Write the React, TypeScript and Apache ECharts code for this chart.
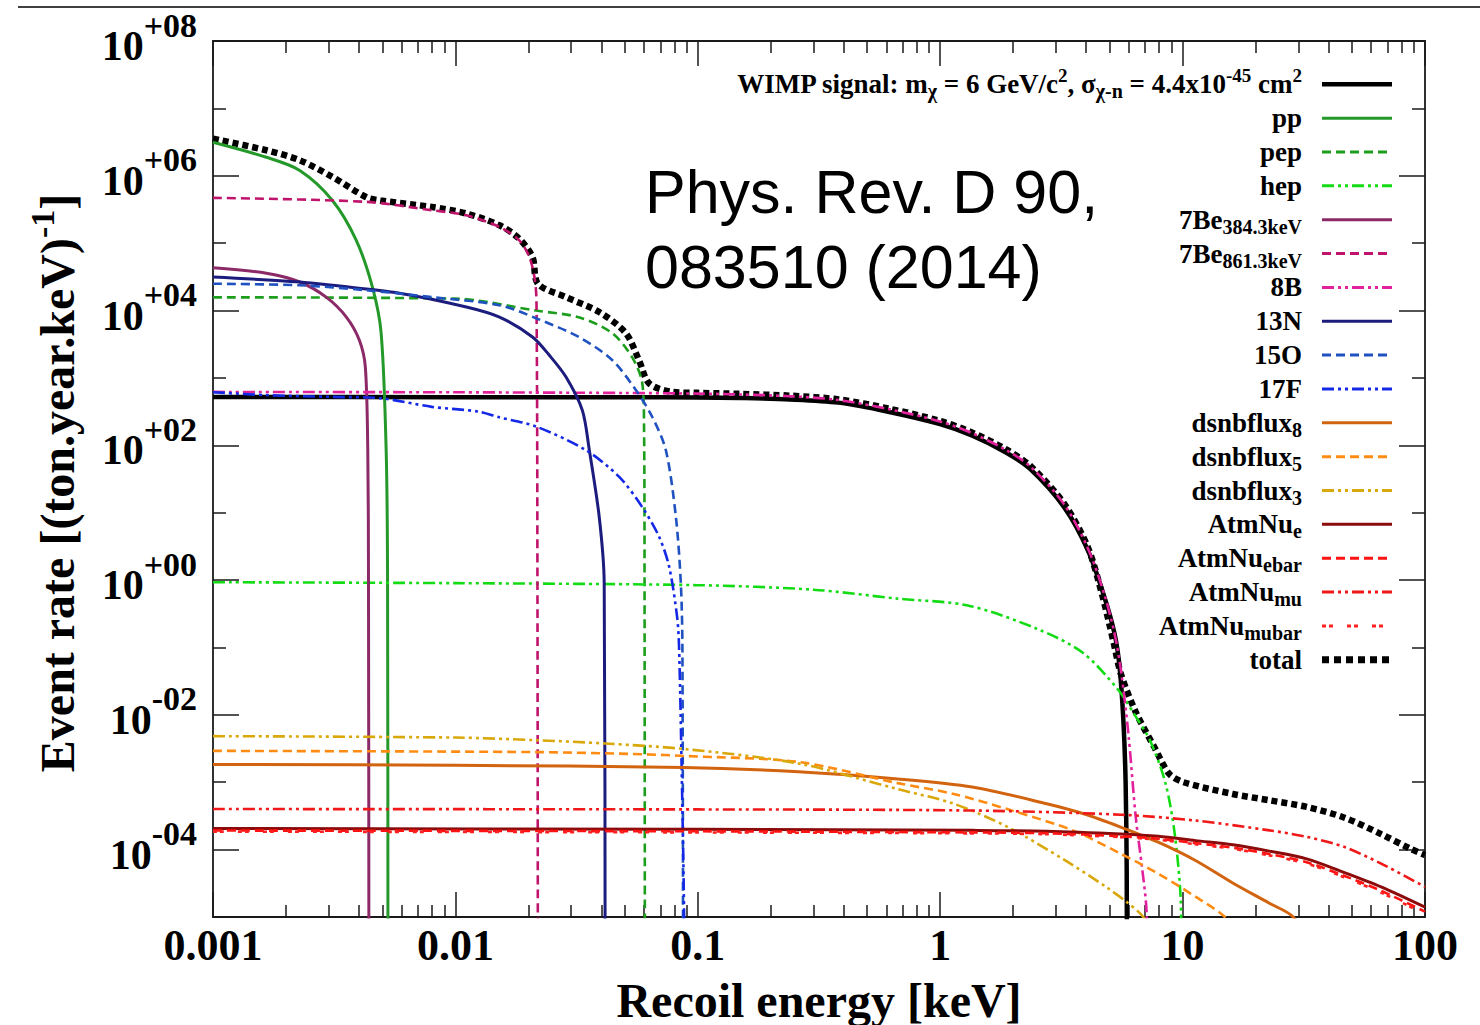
import React, { useEffect, useRef } from "react";
import * as echarts from "echarts";

// ---------- axis ticks (decade exponents) ----------
const xMajorExp = [-3, -2, -1, 0, 1, 2];
const xTickLabels = ["0.001", "0.01", "0.1", "1", "10", "100"];
const minorSteps = [2, 3, 4, 5, 6, 7, 8, 9];
const yMajorExp = [-4, -2, 0, 2, 4, 6, 8];
const yTickLabels = ["-04", "-02", "+00", "+02", "+04", "+06", "+08"];
const yMinorExp = [-5, -3, -1, 1, 3, 5, 7];

// ---------- recoil energy [keV] / event rate [(ton.year.keV)^-1] ----------
const wimpE = [0.001, 0.01, 0.05, 0.1, 0.15, 0.24, 0.38, 0.61, 0.99, 1.35, 1.86, 2.36, 3.25, 4.06, 4.75, 5.24, 5.5, 5.7, 5.82, 5.88, 5.9];
const wimpRate = [520, 518, 516, 512, 503, 480, 430, 315, 208, 140, 79, 44, 12, 2.8, 0.57, 0.16, 0.05, 8e-3, 1e-3, 5e-5, 1e-7];

const ppE = [0.001, 0.00166, 0.00228, 0.00311, 0.0039, 0.00455, 0.00494, 0.00518, 0.00525, 0.00527];
const ppRate = [3.14e6, 1.88e6, 1.2e6, 4.3e5, 1.1e5, 2.2e4, 4.6e3, 85, 1, 1e-7];

const pepE = [0.001, 0.01, 0.0215, 0.0325, 0.0444, 0.0537, 0.059, 0.06, 0.0603, 0.0605];
const pepRate = [1.57e4, 1.5e4, 1.0e4, 7.9e3, 4.6e3, 2.0e3, 840, 200, 1, 1e-7];

const hepE = [0.001, 0.01, 0.1, 0.3, 0.668, 1.3, 2.5, 3.85, 5.4, 6.4, 7.38, 8.51, 9.27, 9.82, 10.0];
const hepRate = [0.93, 0.9, 0.84, 0.72, 0.53, 0.42, 0.19, 0.085, 0.024, 9.5e-3, 4.0e-3, 9.5e-4, 1.76e-4, 1.8e-5, 1e-7];

const be384E = [0.001, 0.00166, 0.00228, 0.00293, 0.00355, 0.00402, 0.00425, 0.00435, 0.00438, 0.0044];
const be384Rate = [4.3e4, 3.57e4, 2.65e4, 1.58e4, 8.0e3, 3.6e3, 1.46e3, 85, 1, 1e-7];

const be861E = [0.001, 0.00429, 0.00804, 0.01107, 0.0152, 0.01835, 0.0202, 0.0212, 0.0216, 0.0218, 0.0219];
const be861Rate = [4.7e5, 4.1e5, 3.07e5, 2.6e5, 1.74e5, 1.1e5, 6.2e4, 3.1e4, 1.4e4, 1, 1e-7];

const b8E = [0.001, 0.01, 0.05, 0.1, 0.15, 0.24, 0.38, 0.61, 0.99, 1.35, 1.86, 2.36, 3.25, 4.06, 4.75, 5.24, 5.57, 5.97, 6.41, 6.8, 7.1, 7.25];
const b8Rate = [620, 612, 598, 585, 568, 535, 470, 345, 228, 152, 86, 48, 13.2, 3.0, 0.62, 0.16, 0.045, 5.4e-3, 3e-4, 5.5e-5, 1.2e-5, 1e-7];

const n13E = [0.001, 0.00228, 0.00311, 0.00588, 0.0111, 0.0152, 0.0208, 0.0244, 0.0286, 0.0334, 0.0356, 0.0392, 0.0411, 0.0415];
const n13Rate = [3.15e4, 2.66e4, 2.37e4, 1.81e4, 1.13e4, 8.0e3, 4.05e3, 2.17e3, 1.03e3, 330, 90, 8.7, 0.9, 1e-7];

const o15E = [0.001, 0.00228, 0.00429, 0.008, 0.0152, 0.0215, 0.0325, 0.0444, 0.0556, 0.0649, 0.0738, 0.0812, 0.0851, 0.0864, 0.087];
const o15Rate = [2.5e4, 2.37e4, 2.0e4, 1.58e4, 1.2e4, 7.7e3, 4.0e3, 1.83e3, 656, 263, 85, 8.7, 0.9, 0.1, 1e-7];

const f17E = [0.001, 0.00166, 0.00311, 0.0049, 0.008, 0.0125, 0.0152, 0.0215, 0.0345, 0.0474, 0.0589, 0.0693, 0.0762, 0.0822, 0.0837, 0.086, 0.0878, 0.0882];
const f17Rate = [614, 555, 523, 500, 372, 316, 260, 190, 85, 34, 12.2, 4.37, 1.57, 0.28, 0.1, 1e-3, 1e-5, 1e-7];

const dsnb8E = [0.001, 0.01, 0.088, 0.26, 0.668, 1.356, 2.75, 3.91, 5.55, 7.93, 11.3, 16.1, 22.8, 28.6, 35];
const dsnb8Rate = [1.84e-3, 1.78e-3, 1.66e-3, 1.43e-3, 1.12e-3, 8.5e-4, 4.8e-4, 3.4e-4, 2.16e-4, 1.29e-4, 6.9e-5, 3.2e-5, 1.6e-5, 1e-5, 3e-6];

const dsnb5E = [0.001, 0.0216, 0.0594, 0.089, 0.26, 0.668, 1.137, 1.93, 3.52, 5.55, 7.93, 11.3, 14.96, 20];
const dsnb5Rate = [2.92e-3, 2.8e-3, 2.6e-3, 2.45e-3, 2.0e-3, 9.7e-4, 6.7e-4, 3.9e-4, 1.93e-4, 8.7e-5, 4.4e-5, 2.0e-5, 1e-5, 3e-6];

const dsnb3E = [0.001, 0.01, 0.0216, 0.0413, 0.089, 0.26, 0.668, 1.137, 1.93, 3.28, 4.83, 5.97, 6.88, 9];
const dsnb3Rate = [4.83e-3, 4.6e-3, 4.2e-3, 3.76e-3, 3.1e-3, 1.9e-3, 7.9e-4, 4.8e-4, 2.1e-4, 6.9e-5, 2.8e-5, 1.6e-5, 1e-5, 2e-6];

const atmE = [0.001, 0.1, 1.36, 2.75, 5.55, 7.93, 11.3, 16.1, 22.8, 32.5, 46.3, 65.9, 100];
const atmNuERate = [2.06e-4, 2.0e-4, 1.93e-4, 1.88e-4, 1.71e-4, 1.58e-4, 1.36e-4, 1.18e-4, 9.5e-5, 7.3e-5, 4.6e-5, 2.8e-5, 1.4e-5];
const atmNuEbarRate = [1.92e-4, 1.87e-4, 1.8e-4, 1.75e-4, 1.58e-4, 1.45e-4, 1.25e-4, 1.07e-4, 8.6e-5, 6.5e-5, 4.1e-5, 2.45e-5, 1.2e-5];
const atmNuMubarRate = [1.85e-4, 1.8e-4, 1.74e-4, 1.69e-4, 1.53e-4, 1.4e-4, 1.2e-4, 1.03e-4, 8.2e-5, 6.2e-5, 3.9e-5, 2.3e-5, 1.1e-5];

const atmMuE = [0.001, 0.1, 1.36, 5.55, 11.3, 22.8, 32.5, 46.3, 65.9, 100];
const atmNuMuRate = [4.0e-4, 3.95e-4, 3.8e-4, 3.3e-4, 2.7e-4, 1.93e-4, 1.55e-4, 1.1e-4, 6.2e-5, 2.8e-5];

const totalE = [0.001, 0.00166, 0.00228, 0.00311, 0.00429, 0.0049, 0.008, 0.0111, 0.0152, 0.0183, 0.0208, 0.0219, 0.0286, 0.0392, 0.0505, 0.0573, 0.063, 0.0783, 0.1, 0.15, 0.24, 0.38, 0.61, 0.99, 1.35, 1.86, 2.36, 3.25, 4.06, 4.66, 5.19, 5.57, 6.41, 7.65, 8.81, 10.1, 16.1, 22.8, 32.5, 46.3, 65.9, 87.5, 100];
const totalRate = [3.56e6, 2.39e6, 1.7e6, 9.6e5, 4.8e5, 4.3e5, 3.44e5, 2.75e5, 1.84e5, 1.17e5, 6.2e4, 2.5e4, 1.58e4, 9.5e3, 4.6e3, 1.8e3, 830, 620, 600, 580, 545, 480, 352, 232, 155, 88, 49, 13.5, 3.1, 0.6, 0.12, 0.04, 0.011, 3.3e-3, 1.33e-3, 1.0e-3, 6.7e-4, 5.4e-4, 4.3e-4, 3.0e-4, 1.7e-4, 1.02e-4, 8.3e-5];

// ---------- styles ----------
const SERIF = "'Liberation Serif', 'Times New Roman', serif";
const SANS = "'Liberation Sans', Arial, sans-serif";
const FRAME = "#1a1a1a";

const DASH = [9, 5];
const DASH_DOT_DOT = [12, 4, 3, 4, 3, 4];
const DOTS = [4, 3, 4, 14];
const SQUARES = [6, 4];

type Curve = {
  label: string;
  e: number[];
  r: number[];
  color: string;
  width: number;
  dash: number[] | null;
  legendWidth: number;
  legendDash: number[] | null;
};

// Legend order (top to bottom)
const curves: Curve[] = [
  { label: "{t|WIMP signal: m}{sub|χ}{t| = 6 GeV/c}{sup|2}{t|, σ}{sub|χ-n}{t| = 4.4x10}{sup|-45}{t| cm}{sup|2}", e: wimpE, r: wimpRate, color: "#000000", width: 4.5, dash: null, legendWidth: 4.5, legendDash: null },
  { label: "{t|pp}", e: ppE, r: ppRate, color: "#24992a", width: 3, dash: null, legendWidth: 3, legendDash: null },
  { label: "{t|pep}", e: pepE, r: pepRate, color: "#1c9e1c", width: 2.6, dash: DASH, legendWidth: 3, legendDash: DASH },
  { label: "{t|hep}", e: hepE, r: hepRate, color: "#14dc14", width: 2.6, dash: DASH_DOT_DOT, legendWidth: 3, legendDash: DASH_DOT_DOT },
  { label: "{t|7Be}{sub|384.3keV}", e: be384E, r: be384Rate, color: "#8c2a68", width: 3, dash: null, legendWidth: 3, legendDash: null },
  { label: "{t|7Be}{sub|861.3keV}", e: be861E, r: be861Rate, color: "#c0136c", width: 2.6, dash: DASH, legendWidth: 3, legendDash: DASH },
  { label: "{t|8B}", e: b8E, r: b8Rate, color: "#e2229c", width: 2.6, dash: DASH_DOT_DOT, legendWidth: 3, legendDash: DASH_DOT_DOT },
  { label: "{t|13N}", e: n13E, r: n13Rate, color: "#1c1c7e", width: 3, dash: null, legendWidth: 3, legendDash: null },
  { label: "{t|15O}", e: o15E, r: o15Rate, color: "#1f52c0", width: 2.6, dash: DASH, legendWidth: 3, legendDash: DASH },
  { label: "{t|17F}", e: f17E, r: f17Rate, color: "#1428e6", width: 2.6, dash: DASH_DOT_DOT, legendWidth: 3, legendDash: DASH_DOT_DOT },
  { label: "{t|dsnbflux}{sub|8}", e: dsnb8E, r: dsnb8Rate, color: "#d2640f", width: 3, dash: null, legendWidth: 3, legendDash: null },
  { label: "{t|dsnbflux}{sub|5}", e: dsnb5E, r: dsnb5Rate, color: "#ff8c12", width: 2.6, dash: DASH, legendWidth: 3, legendDash: DASH },
  { label: "{t|dsnbflux}{sub|3}", e: dsnb3E, r: dsnb3Rate, color: "#d9a80b", width: 2.6, dash: DASH_DOT_DOT, legendWidth: 3, legendDash: DASH_DOT_DOT },
  { label: "{t|AtmNu}{sub|e}", e: atmE, r: atmNuERate, color: "#8b0a0a", width: 3, dash: null, legendWidth: 3, legendDash: null },
  { label: "{t|AtmNu}{sub|ebar}", e: atmE, r: atmNuEbarRate, color: "#ff1212", width: 2.6, dash: DASH, legendWidth: 3, legendDash: DASH },
  { label: "{t|AtmNu}{sub|mu}", e: atmMuE, r: atmNuMuRate, color: "#f01818", width: 2.6, dash: DASH_DOT_DOT, legendWidth: 3, legendDash: DASH_DOT_DOT },
  { label: "{t|AtmNu}{sub|mubar}", e: atmE, r: atmNuMubarRate, color: "#ff2020", width: 2.6, dash: DOTS, legendWidth: 3, legendDash: DOTS },
  { label: "{t|total}", e: totalE, r: totalRate, color: "#000000", width: 6.5, dash: SQUARES, legendWidth: 7, legendDash: [7, 5] },
];

// ---------- layout ----------
const GRID = { left: 213, top: 41, right: 55, bottom: 108 };
const LEGEND_TEXT_RIGHT = 1302;
const LEGEND_LINE = [1322, 1392];
const LEGEND_TOP = 84.3;
const LEGEND_STEP = 33.85;

const xMinorExp = xMajorExp.slice(0, -1).flatMap((d) => minorSteps.map((m) => d + Math.log10(m)));

const tickLine = { color: FRAME, width: 1.5 };

function xTickAxis(position: "bottom" | "top", exps: number[], len: number, frame: boolean, labels: boolean) {
  return {
    type: "value",
    position,
    min: -3,
    max: 2,
    axisLine: { show: frame, onZero: false, lineStyle: { color: FRAME, width: 1.8 } },
    axisTick: { show: true, inside: true, length: len, customValues: exps, lineStyle: tickLine },
    splitLine: { show: false },
    axisLabel: labels
      ? {
          show: true,
          customValues: xMajorExp,
          margin: 6,
          color: "#000",
          fontSize: 44,
          fontFamily: SERIF,
          fontWeight: "bold",
          formatter: (v: number) => xTickLabels[xMajorExp.indexOf(Math.round(v))] ?? "",
        }
      : { show: false },
  };
}

function yTickAxis(position: "left" | "right", exps: number[], len: number, frame: boolean, labels: boolean) {
  return {
    type: "value",
    position,
    min: -5,
    max: 8,
    axisLine: { show: frame, onZero: false, lineStyle: { color: FRAME, width: 1.8 } },
    axisTick: { show: true, inside: true, length: len, customValues: exps, lineStyle: tickLine },
    splitLine: { show: false },
    axisLabel: labels
      ? {
          show: true,
          customValues: yMajorExp,
          margin: 16,
          formatter: (v: number) => `{b|10}{e|${yTickLabels[yMajorExp.indexOf(Math.round(v))] ?? ""}}`,
          rich: {
            b: { fontSize: 42, fontFamily: SERIF, fontWeight: "bold", color: "#000", padding: [10, 0, 0, 0] },
            e: { fontSize: 34, fontFamily: SERIF, fontWeight: "bold", color: "#000", padding: [0, 0, 32, 0] },
          },
        }
      : { show: false },
  };
}

const legendRich = {
  t: { fontSize: 27, fontFamily: SERIF, fontWeight: "bold", fill: "#000" },
  sub: { fontSize: 20, fontFamily: SERIF, fontWeight: "bold", fill: "#000", padding: [14, 0, 0, 0] },
  sup: { fontSize: 19, fontFamily: SERIF, fontWeight: "bold", fill: "#000", padding: [0, 0, 18, 0] },
};

function buildOption() {
  // total goes underneath the individual components
  const drawOrder = [curves[curves.length - 1], ...curves.slice(0, -1)];
  const series = drawOrder.map((c, i) => ({
    type: "line",
    xAxisIndex: 0,
    yAxisIndex: 0,
    symbol: "none",
    smooth: 0.3,
    clip: true,
    silent: true,
    z: 2 + i * 0.01,
    data: c.e.map((e, k) => [e, c.r[k]]),
    lineStyle: { color: c.color, width: c.width, type: c.dash ?? "solid", cap: "butt" },
  }));

  const legendItems: any[] = [];
  curves.forEach((c, i) => {
    const y = LEGEND_TOP + LEGEND_STEP * i;
    legendItems.push({
      type: "text",
      x: LEGEND_TEXT_RIGHT,
      y,
      style: { text: c.label, rich: legendRich, align: "right", verticalAlign: "middle", textAlign: "right", textVerticalAlign: "middle" },
    });
    legendItems.push({
      type: "line",
      shape: { x1: LEGEND_LINE[0], y1: y, x2: LEGEND_LINE[1], y2: y },
      style: { stroke: c.color, lineWidth: c.legendWidth, lineDash: c.legendDash ?? null, lineCap: "butt" },
    });
  });

  return {
    animation: false,
    backgroundColor: "#ffffff",
    grid: { ...GRID, containLabel: false },
    xAxis: [
      { type: "log", logBase: 10, min: 0.001, max: 100, show: false },
      xTickAxis("bottom", xMajorExp, 25, true, true),
      xTickAxis("bottom", xMinorExp, 12, false, false),
      xTickAxis("top", xMajorExp, 25, true, false),
      xTickAxis("top", xMinorExp, 12, false, false),
    ],
    yAxis: [
      { type: "log", logBase: 10, min: 1e-5, max: 1e8, show: false },
      yTickAxis("left", yMajorExp, 26, true, true),
      yTickAxis("left", yMinorExp, 13, false, false),
      yTickAxis("right", yMajorExp, 26, true, false),
      yTickAxis("right", yMinorExp, 13, false, false),
    ],
    series,
    graphic: [
      {
        type: "line",
        shape: { x1: 18, y1: 7, x2: 1480, y2: 7 },
        style: { stroke: "#000", lineWidth: 1.3 },
      },
      {
        type: "text",
        x: 645,
        y: 154,
        style: {
          text: "Phys. Rev. D 90,\n083510 (2014)",
          fontSize: 61,
          fontFamily: SANS,
          lineHeight: 75,
          fill: "#000",
          verticalAlign: "top",
          textVerticalAlign: "top",
        },
      },
      {
        type: "text",
        x: 819,
        y: 1000,
        style: {
          text: "Recoil energy [keV]",
          fontSize: 48,
          fontFamily: SERIF,
          fontWeight: "bold",
          fill: "#000",
          align: "center",
          verticalAlign: "middle",
          textAlign: "center",
          textVerticalAlign: "middle",
        },
      },
      {
        type: "text",
        x: 57,
        y: 483,
        rotation: Math.PI / 2,
        style: {
          text: "{t|Event rate [(ton.year.keV)}{sup|-1}{t|]}",
          rich: {
            t: { fontSize: 48, fontFamily: SERIF, fontWeight: "bold", fill: "#000" },
            sup: { fontSize: 34, fontFamily: SERIF, fontWeight: "bold", fill: "#000", padding: [0, 0, 30, 0] },
          },
          align: "center",
          verticalAlign: "middle",
          textAlign: "center",
          textVerticalAlign: "middle",
        },
      },
      ...legendItems,
    ],
  };
}

export default function App() {
  const ref = useRef<HTMLDivElement>(null);
  useEffect(() => {
    if (!ref.current) return;
    const chart = echarts.init(ref.current, null, { renderer: "svg" });
    chart.setOption(buildOption() as any);
    return () => chart.dispose();
  }, []);
  return (
    <div
      ref={ref}
      style={{ position: "fixed", left: 0, top: 0, width: 1480, height: 1025, background: "#fff" }}
    />
  );
}
